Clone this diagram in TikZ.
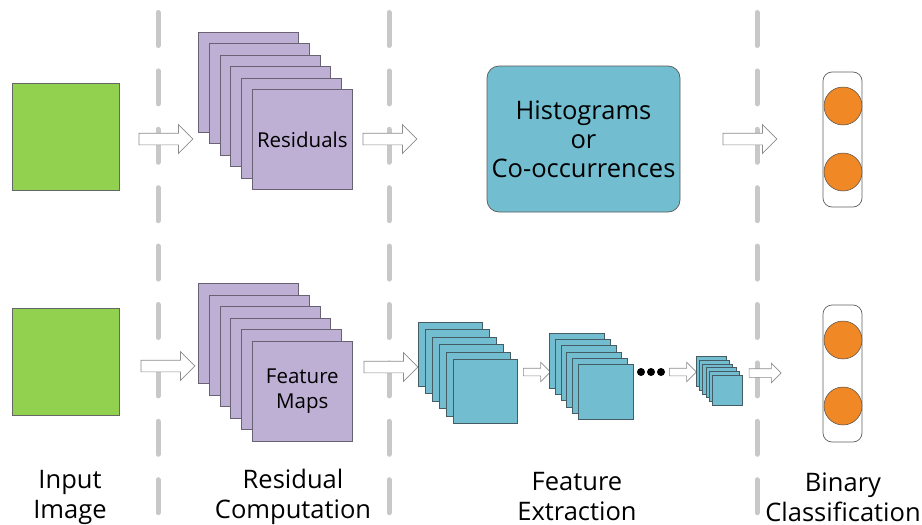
\documentclass[tikz,border=0pt]{standalone}
\usepackage{fontspec}
\setmainfont{Open Sans}
\usetikzlibrary{shapes.arrows}
\definecolor{grn}{RGB}{146,208,80}
\definecolor{prp}{RGB}{190,175,212}
\definecolor{prpline}{RGB}{105,98,115}
\definecolor{aqua}{RGB}{114,190,208}
\definecolor{aqualine}{RGB}{70,92,100}
\definecolor{org}{RGB}{240,136,38}
\definecolor{sepgray}{RGB}{200,200,200}
\definecolor{arrline}{RGB}{140,140,140}
\tikzset{
  sepline/.style={draw=sepgray, line width=5pt, line cap=round, dash pattern=on 33pt off 25.4pt},
  blockarrow/.style={single arrow, draw=arrline, fill=white, inner sep=0pt, text width=0pt, text depth=0pt},
  bigarrow/.style={blockarrow, line width=0.7pt, text height=11pt,
    minimum height=54pt, single arrow head extend=8.5pt},
  smallarrow/.style={blockarrow, line width=0.6pt, text height=7pt,
    minimum height=27pt, single arrow head extend=6pt},
  midarrow/.style={blockarrow, line width=0.6pt, text height=8pt,
    minimum height=32pt, single arrow head extend=5.5pt},
  greensq/.style={draw=gray!80!black, fill=grn, line width=0.6pt, minimum size=107pt, inner sep=0pt},
  prpsq/.style={draw=prpline, fill=prp, line width=0.7pt, minimum size=100pt, inner sep=0pt, anchor=north west},
  aquasq/.style={draw=aqualine, fill=aqua, line width=0.7pt, inner sep=0pt, anchor=north west},
  histbox/.style={draw=gray!70!black, fill=aqua, line width=0.7pt, rounded corners=12pt,
    minimum width=193pt, minimum height=146pt, align=center, font=\fontsize{25.5}{29}\selectfont},
  clsbox/.style={draw=gray!75!black, fill=white, line width=0.7pt, rounded corners=9pt,
    minimum width=39pt, inner sep=0pt},
  neuron/.style={circle, draw=gray!60!black, fill=org, line width=0.5pt, minimum size=38pt, inner sep=0pt},
  dotnode/.style={circle, fill=black, minimum size=8pt, inner sep=0pt},
  lbl/.style={align=center, font=\fontsize{25.5}{30}\selectfont},
  intext/.style={align=center, font=\fontsize{20.5}{25}\selectfont}
}
\begin{document}
\begin{tikzpicture}[x=1pt,y=-1pt]
\useasboundingbox (0,0) rectangle (922,525);
% separators
\draw[sepline] (158,12.5) -- (158,545);
\draw[sepline] (389,12.5) -- (389,545);
\draw[sepline] (757,12.5) -- (757,545);

% ---- top row ----
\node[greensq] (gtop) at (65.5,136.5) {};
\foreach \i in {0,...,5}{
  \node[prpsq] (rt\i) at (198+10.8*\i, 32+11.4*\i) {};
}
\node[intext] (restxt) at (rt5.center) {Residuals};
\node[bigarrow] (at1) at (163,139) {};
\node[bigarrow] (at2) at (387,139) {};
\node[histbox] (hist) at (583.5,139) {Histograms\\or\\Co-occurrences};
\node[bigarrow] (at3) at (747,139) {};
\node[clsbox, minimum height=135pt] (ct) at (842.5,139.5) {};
\node[neuron] (ct1) at (843,106) {};
\node[neuron] (ct2) at (843,172) {};

% ---- bottom row ----
\node[greensq] (gbot) at (66,361.5) {};
\foreach \i in {0,...,5}{
  \node[prpsq] (rb\i) at (198+10.8*\i, 283+11.6*\i) {};
}
\node[intext] (fmtxt) at (rb5.center) {Feature\\Maps};
\node[bigarrow] (ab1) at (165,366) {};
\node[bigarrow] (ab2) at (388,367) {};
\foreach \i in {0,...,5}{
  \node[aquasq, minimum size=64pt] (s1\i) at (418+7*\i, 322+7.4*\i) {};
}
\node[smallarrow] (ab3) at (535,372) {};
\foreach \i in {0,...,5}{
  \node[aquasq, minimum size=55pt] (s2\i) at (549+5.8*\i, 333+6.2*\i) {};
}
\node[dotnode] (d1) at (641,372) {};
\node[dotnode] (d2) at (651,372) {};
\node[dotnode] (d3) at (661,372) {};
\node[smallarrow] (ab4) at (681,372) {};
\foreach \i in {0,...,5}{
  \node[aquasq, minimum size=30pt] (s3\i) at (696+3.2*\i, 356+3.8*\i) {};
}
\node[midarrow] (ab5) at (763,373) {};
\node[clsbox, minimum height=137pt] (cb) at (842.5,373.5) {};
\node[neuron] (cb1) at (843,340) {};
\node[neuron] (cb2) at (843,406) {};

% ---- labels ----
\node[lbl] (l1) at (70,497) {Input\\Image};
\node[lbl] (l2) at (293,497) {Residual\\Computation};
\node[lbl] (l3) at (577,497) {Feature\\Extraction};
\node[lbl] (l4) at (843,497) {Binary\\Classification};
\end{tikzpicture}
\end{document}
